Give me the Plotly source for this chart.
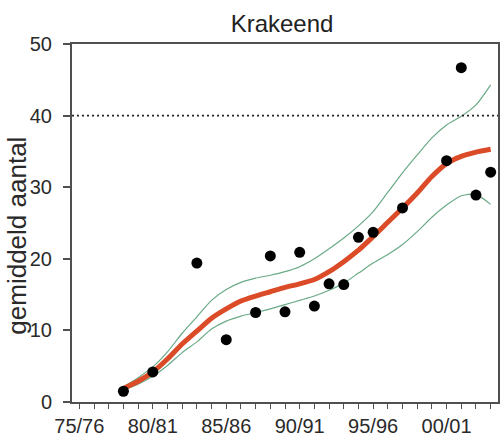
import plotly.graph_objects as go

# Seasons on the x axis (index 0 = 75/76)
seasons = ["75/76", "76/77", "77/78", "78/79", "79/80", "80/81", "81/82", "82/83",
           "83/84", "84/85", "85/86", "86/87", "87/88", "88/89", "89/90", "90/91",
           "91/92", "92/93", "93/94", "94/95", "95/96", "96/97", "97/98", "98/99",
           "99/00", "00/01", "01/02", "02/03", "03/04"]
labelled_seasons = ["75/76", "80/81", "85/86", "90/91", "95/96", "00/01"]

# Observed mean counts per season (None = no count)
mean_count = [None, None, None, 1.5, None, 4.2, None, None,
              19.4, None, 8.7, None, 12.5, 20.4, 12.6, 20.9,
              13.4, 16.5, 16.4, 23.0, 23.7, None, 27.1, None,
              None, 33.7, 46.7, 28.9, 32.1]

# Smoothed trend and its confidence band
trend = [None, None, None, 1.9, 2.9, 4.2, 6.0, 8.1,
         9.9, 11.7, 13.0, 14.1, 14.8, 15.4, 16.0, 16.5,
         17.1, 18.2, 19.6, 21.2, 23.1, 25.1, 27.1, 29.2,
         31.5, 33.3, 34.3, 34.9, 35.3]
trend_upper = [None, None, None, 2.1, 3.4, 4.9, 7.0, 9.6,
               11.9, 14.2, 15.7, 16.7, 17.3, 17.7, 18.2, 18.9,
               20.0, 21.4, 22.9, 24.6, 26.6, 29.3, 32.0, 34.5,
               36.9, 38.7, 39.9, 41.5, 44.3]
trend_lower = [None, None, None, 1.7, 2.5, 3.6, 5.1, 6.9,
               8.4, 10.2, 11.3, 12.0, 12.5, 13.0, 13.6, 14.2,
               14.8, 15.6, 16.6, 18.0, 19.4, 20.6, 22.0, 23.8,
               25.8, 27.5, 28.8, 29.0, 27.6]

reference_level = 40
y_ticks = [0, 10, 20, 30, 40, 50]

x_idx = list(range(len(seasons)))
tick_text = [s if s in labelled_seasons else "" for s in seasons]

FONT = "Liberation Sans, Arial, sans-serif"
AXIS_COLOR = "#505050"
TEXT_COLOR = "#2a2a2a"

fig = go.Figure()

band_style = dict(color="#6aaa86", width=1.2, shape="spline", smoothing=0.7)
fig.add_trace(go.Scatter(x=x_idx, y=trend_upper, mode="lines", line=band_style,
                         connectgaps=False, hoverinfo="skip"))
fig.add_trace(go.Scatter(x=x_idx, y=trend_lower, mode="lines", line=band_style,
                         connectgaps=False, hoverinfo="skip"))
fig.add_trace(go.Scatter(x=x_idx, y=trend, mode="lines",
                         line=dict(color="#db4b27", width=5, shape="spline", smoothing=0.7)))
fig.add_trace(go.Scatter(x=x_idx, y=mean_count, mode="markers",
                         marker=dict(color="#000000", size=11)))

# Dotted reference level across the plot
fig.add_shape(type="line", xref="paper", x0=0, x1=1, yref="y",
              y0=reference_level, y1=reference_level,
              line=dict(color="#222222", width=1.6, dash="2px,3px"))

fig.update_layout(
    width=501, height=438, autosize=False,
    margin=dict(l=72, r=1, t=44, b=33),
    paper_bgcolor="white", plot_bgcolor="white",
    showlegend=False,
    font=dict(family=FONT, color=TEXT_COLOR),
    title=dict(text="Krakeend", font=dict(size=24, color="#222222", family=FONT),
               xref="paper", x=0.493, xanchor="center",
               yref="container", y=1 - 24 / 438, yanchor="middle"),
    annotations=[dict(text="gemiddeld aantal", textangle=-90,
                      xref="paper", yref="paper",
                      x=(17 - 72) / 428, y=(405 - 237) / 361,
                      xanchor="center", yanchor="middle", showarrow=False,
                      font=dict(size=26, color=TEXT_COLOR, family=FONT))],
)

fig.update_xaxes(range=[-0.5, 28.5], tickvals=x_idx, ticktext=tick_text,
                 ticks="outside", ticklen=5, tickwidth=1, tickcolor=AXIS_COLOR,
                 showline=True, linecolor=AXIS_COLOR, linewidth=2, mirror=True,
                 showgrid=False, zeroline=False,
                 tickfont=dict(size=20, color=TEXT_COLOR, family=FONT))
fig.update_yaxes(range=[0, 50], tickvals=y_ticks,
                 ticks="outside", ticklen=7, tickwidth=1.5, tickcolor=AXIS_COLOR,
                 showline=True, linecolor=AXIS_COLOR, linewidth=2, mirror=True,
                 showgrid=False, zeroline=False, ticklabelstandoff=7,
                 tickfont=dict(size=20, color=TEXT_COLOR, family=FONT))

fig.write_html("out.html")
